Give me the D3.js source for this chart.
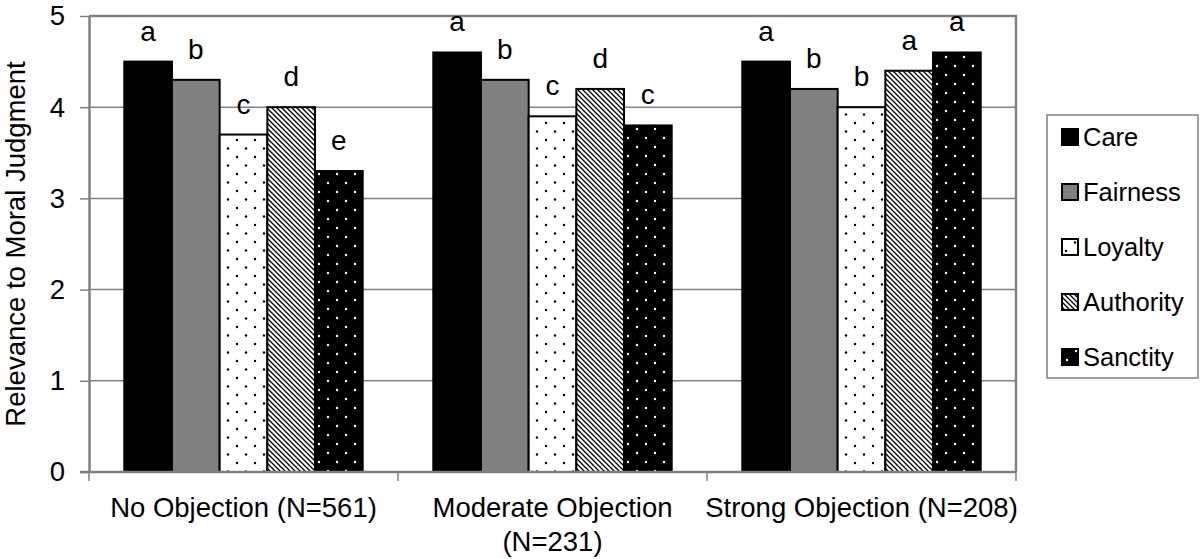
<!DOCTYPE html>
<html>
<head>
<meta charset="utf-8">
<script src="https://cdn.jsdelivr.net/npm/d3@7"></script>
<style>
  body { margin: 0; background: #fff; }
  text { font-family: "Liberation Sans", Arial, Helvetica, sans-serif; fill: #000; }
</style>
</head>
<body>
<svg id="chart"></svg>
<script>
// data
const groups = ['No Objection (N=561)', 'Moderate Objection (N=231)', 'Strong Objection (N=208)'];
const groupLines = [['No Objection (N=561)'], ['Moderate Objection', '(N=231)'], ['Strong Objection (N=208)']];
const foundations = ['Care', 'Fairness', 'Loyalty', 'Authority', 'Sanctity'];
const care = [4.5, 4.6, 4.5];
const fairness = [4.3, 4.3, 4.2];
const loyalty = [3.7, 3.9, 4.0];
const authority = [4.0, 4.2, 4.4];
const sanctity = [3.3, 3.8, 4.6];
const letters = [
  ['a', 'b', 'c', 'd', 'e'],
  ['a', 'b', 'c', 'd', 'c'],
  ['a', 'b', 'b', 'a', 'a']
];
const yTicks = [0, 1, 2, 3, 4, 5];

const series = [care, fairness, loyalty, authority, sanctity];
const fills = ['#000', '#808080', 'url(#dots)', 'url(#hatch)', 'url(#wdots)'];

const width = 1200, height = 559;
const mLeft = 89, mRight = 1016, mTop = 16, mBottom = 472;

const svg = d3.select('#chart')
  .attr('width', width)
  .attr('height', height);

// patterns
const defs = svg.append('defs');

const dots = defs.append('pattern')
  .attr('id', 'dots')
  .attr('patternUnits', 'userSpaceOnUse')
  .attr('width', 18).attr('height', 17);
dots.append('rect').attr('width', 18).attr('height', 17).attr('fill', '#fff');
dots.append('circle').attr('cx', 4).attr('cy', 4).attr('r', 1.2).attr('fill', '#000');
dots.append('circle').attr('cx', 13).attr('cy', 12.5).attr('r', 1.2).attr('fill', '#000');

const wdots = defs.append('pattern')
  .attr('id', 'wdots')
  .attr('patternUnits', 'userSpaceOnUse')
  .attr('width', 18).attr('height', 18);
wdots.append('rect').attr('width', 18).attr('height', 18).attr('fill', '#000');
wdots.append('circle').attr('cx', 5).attr('cy', 3).attr('r', 1.2).attr('fill', '#fff');
wdots.append('circle').attr('cx', 14).attr('cy', 12).attr('r', 1.2).attr('fill', '#fff');

const hatch = defs.append('pattern')
  .attr('id', 'hatch')
  .attr('patternUnits', 'userSpaceOnUse')
  .attr('width', 5).attr('height', 5);
hatch.append('rect').attr('width', 5).attr('height', 5).attr('fill', '#fff');
hatch.append('path')
  .attr('d', 'M0,0L5,5M-1,4L1,6M4,-1L6,1')
  .attr('stroke', '#000')
  .attr('stroke-width', 1.3);

// scales
const x0 = d3.scaleBand()
  .domain(groups)
  .range([mLeft, mRight]);

const x1 = d3.scaleBand()
  .domain(foundations)
  .range([0, x0.bandwidth()])
  .paddingOuter(0.74)
  .paddingInner(0);

const y = d3.scaleLinear()
  .domain([0, 5])
  .range([mBottom, mTop]);

// gridlines
svg.append('g')
  .selectAll('line')
  .data(yTicks.filter(d => d > 0 && d < 5))
  .enter()
  .append('line')
  .attr('x1', mLeft).attr('x2', mRight)
  .attr('y1', d => y(d)).attr('y2', d => y(d))
  .attr('stroke', '#808080')
  .attr('stroke-width', 1.5);

// plot border (top + right)
svg.append('path')
  .attr('d', `M${mLeft},${y(5)}H${mRight}V${y(0)}`)
  .attr('fill', 'none')
  .attr('stroke', '#808080')
  .attr('stroke-width', 2.5);

// bars
const groupG = svg.append('g')
  .selectAll('g')
  .data(groups)
  .enter()
  .append('g')
  .attr('transform', d => `translate(${x0(d)},0)`);

groupG.selectAll('rect')
  .data((g, gi) => foundations.map((f, fi) => ({ f, fi, v: series[fi][gi] })))
  .enter()
  .append('rect')
  .attr('x', d => x1(d.f))
  .attr('y', d => y(d.v))
  .attr('width', x1.bandwidth())
  .attr('height', d => y(0) - y(d.v))
  .attr('fill', d => fills[d.fi])
  .attr('stroke', '#000')
  .attr('stroke-width', 2);

// significance letters
groupG.selectAll('text.sig')
  .data((g, gi) => foundations.map((f, fi) => ({ f, v: series[fi][gi], t: letters[gi][fi] })))
  .enter()
  .append('text')
  .attr('class', 'sig')
  .attr('x', d => x1(d.f) + x1.bandwidth() / 2)
  .attr('y', d => y(d.v) - 21)
  .attr('text-anchor', 'middle')
  .style('font-size', '28px')
  .text(d => d.t);

// y axis
const yAxis = svg.append('g')
  .attr('transform', `translate(${mLeft},0)`)
  .call(d3.axisLeft(y).tickValues(yTicks).tickFormat(d3.format('d')).tickSize(9).tickSizeOuter(0).tickPadding(15));
yAxis.select('.domain').attr('stroke', '#808080').attr('stroke-width', 2.5);
yAxis.selectAll('.tick line').attr('stroke', '#808080').attr('stroke-width', 1.5);
yAxis.selectAll('.tick text')
  .style('font-size', '27.5px')
  .style('font-family', '"Liberation Sans", Arial, sans-serif');

// x axis
const xAxis = svg.append('g')
  .attr('transform', `translate(0,${mBottom})`);
xAxis.append('line')
  .attr('x1', mLeft - 9).attr('x2', mRight)
  .attr('stroke', '#808080')
  .attr('stroke-width', 2.5);
xAxis.selectAll('line.tick')
  .data([mLeft].concat(groups.map(g => x0(g) + x0.bandwidth())))
  .enter()
  .append('line')
  .attr('class', 'tick')
  .attr('x1', d => d).attr('x2', d => d)
  .attr('y1', 0).attr('y2', 9)
  .attr('stroke', '#808080')
  .attr('stroke-width', 1.5);

const catText = xAxis.selectAll('text')
  .data(groups)
  .enter()
  .append('text')
  .attr('x', d => x0(d) + x0.bandwidth() / 2)
  .attr('y', 45)
  .attr('text-anchor', 'middle')
  .style('font-size', '27.5px');
catText.selectAll('tspan')
  .data((d, i) => groupLines[i])
  .enter()
  .append('tspan')
  .attr('x', function () { return d3.select(this.parentNode).attr('x'); })
  .attr('dy', (d, i) => i === 0 ? 0 : 34)
  .text(d => d);

// y axis title
svg.append('text')
  .attr('transform', `translate(25,${(mTop + mBottom) / 2}) rotate(-90)`)
  .attr('text-anchor', 'middle')
  .style('font-size', '27.5px')
  .text('Relevance to Moral Judgment');

// legend
const legend = svg.append('g');
legend.append('rect')
  .attr('x', 1047).attr('y', 115)
  .attr('width', 151).attr('height', 263)
  .attr('fill', '#fff')
  .attr('stroke', '#808080')
  .attr('stroke-width', 1.5);

const item = legend.selectAll('g.item')
  .data(foundations)
  .enter()
  .append('g')
  .attr('class', 'item')
  .attr('transform', (d, i) => `translate(1062,${137 + i * 55})`);
item.append('rect')
  .attr('x', 0).attr('y', -8)
  .attr('width', 16).attr('height', 16)
  .attr('fill', (d, i) => fills[i])
  .attr('stroke', '#000')
  .attr('stroke-width', 2);
item.append('text')
  .attr('x', 21).attr('y', 9)
  .style('font-size', '25.5px')
  .text(d => d);
</script>
</body>
</html>
